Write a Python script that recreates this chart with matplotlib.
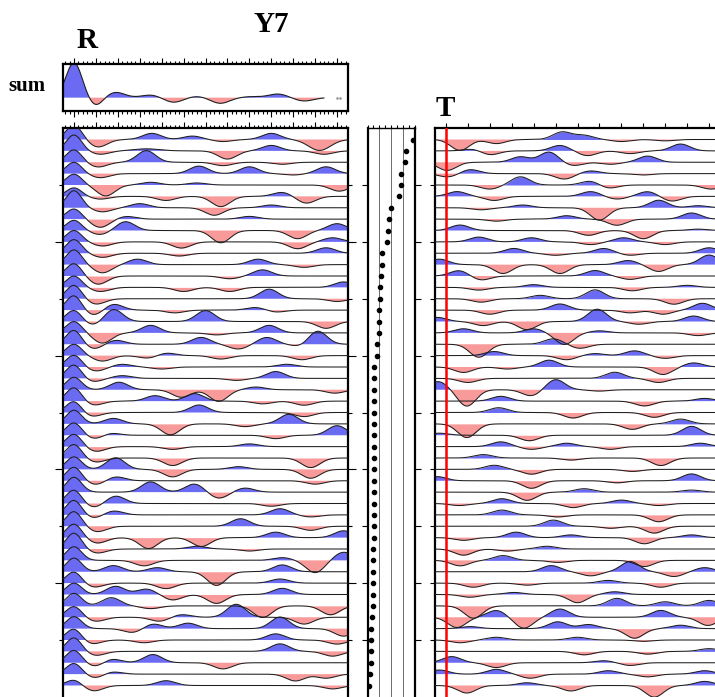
import numpy as np
import matplotlib
matplotlib.use('Agg')
import matplotlib.pyplot as plt

# ---------------- data ----------------
# time axis (s), t=0 = direct P
TIME_RANGE = (-0.5, 12.5)

# stacked radial trace: (time, amplitude[, width])
SUM_PEAKS = [(0.0, 1.05, 0.36), (1.0, -0.24, 0.32), (1.9, 0.16), (3.5, 0.08), (4.55, -0.14),
             (5.6, 0.04), (6.67, -0.17), (8.1, 0.03), (9.3, 0.11), (10.5, -0.1)]
SUM_END = 11.4

# direct-P amplitude of every radial trace (in trace spacings)
R_P_AMP = [1.3, 1.4, 1.1, 1.0, 0.95, 0.75, 1.5, 0.9, 0.9, 1.0,
           1.2, 1.3, 1.1, 1.0, 1.2, 1.3, 1.0, 1.0, 1.25, 1.0,
           1.05, 1.2, 1.1, 1.2, 1.0, 1.2, 1.1, 1.1, 1.2, 1.1,
           1.2, 1.3, 1.2, 1.3, 1.3, 1.2, 1.4, 1.2, 1.2, 1.0,
           1.0, 1.1, 0.95, 1.05, 1.0, 1.2, 1.1, 0.95, 0.5]

# later arrivals on radial traces: (time, amplitude[, width])
R_PEAKS = [
    [(1.1, -0.55), (3.55, 0.45), (5.4, 0.25), (6.8, -0.15), (9.0, 0.45), (11.2, -0.8, 0.5)],
    [(1.2, -0.25), (3.3, 0.15, 0.6), (7.0, -0.6), (9.0, 0.4), (11.4, -0.25)],
    [(1.1, -0.35), (3.3, 0.85), (6.8, -0.25), (9.5, -0.15)],
    [(1.2, -0.3), (5.7, 0.55), (8.0, 0.5), (10.0, -0.1), (11.5, 0.5)],
    [(1.45, -0.8), (3.5, 0.2), (5.6, 0.15), (12.1, -0.45)],
    [(1.2, -0.2), (4.2, -0.3), (6.7, -0.75), (9.5, 0.3), (10.6, -0.5)],
    [(1.3, -0.3), (3.0, 0.3), (6.4, -0.55), (9.0, 0.2)],
    [(1.2, -0.6), (2.4, 0.2), (8.0, 0.2)],
    [(1.2, -0.3), (2.35, 0.65), (6.7, -0.9), (10.2, -0.6), (12.0, 0.5)],
    [(1.3, -0.3), (4.9, -0.45), (10.2, -0.5), (11.8, 0.3)],
    [(1.3, -0.3), (4.8, -0.2), (11.5, 0.4)],
    [(1.3, -0.6), (2.9, 0.4), (8.4, 0.4), (10.5, -0.2)],
    [(1.1, -0.6), (7.1, -0.2), (8.6, 0.45)],
    [(1.2, -0.3), (5.0, -0.3), (7.1, -0.3), (12.3, 0.4)],
    [(1.0, -0.4), (8.9, 0.7), (12.0, -0.2)],
    [(0.9, -0.4), (1.8, 0.45), (4.6, -0.2), (8.3, 0.2), (9.2, -0.15)],
    [(0.9, -0.3), (1.8, 0.9), (6.0, 0.8), (11.5, -0.5)],
    [(1.3, -0.75), (3.5, 0.55), (6.5, -0.15), (8.9, 0.55)],
    [(0.9, -0.35), (1.9, 0.3), (5.8, 0.5), (7.5, -0.35), (8.8, 0.5), (10.4, -0.2), (11.1, 1.0)],
    [(1.3, -0.4), (3.4, -0.2), (4.2, 0.2), (6.7, -0.25), (10.4, -0.3)],
    [(1.0, -0.3), (2.2, 0.2), (4.0, -0.15), (9.7, 0.2)],
    [(0.85, -0.25), (2.2, 0.2), (7.4, -0.15), (9.2, 0.5)],
    [(2.05, 0.55), (4.9, -0.55), (6.6, -0.85), (8.3, 0.2), (11.9, -0.25)],
    [(0.9, -0.3), (3.7, 0.4), (5.5, 0.55), (8.6, -0.2), (10.5, -0.3)],
    [(0.8, -0.3), (5.7, 0.55), (10.5, -0.3)],
    [(1.8, 0.4), (4.4, -0.8), (7.8, -0.2), (9.8, 0.7)],
    [(1.0, -0.3), (1.6, 0.2), (9.2, -0.25), (12.0, 0.7)],
    [(1.0, -0.35), (4.5, -0.2), (8.0, 0.2)],
    [(1.0, -0.3), (4.5, -0.55), (10.8, -0.7)],
    [(1.9, 0.85), (4.5, -0.55), (7.5, 0.2), (10.8, -0.65)],
    [(1.0, -0.3), (1.9, 0.3), (11.0, -0.25)],
    [(3.5, 0.75), (5.5, 0.6), (6.6, -0.45), (7.8, 0.3)],
    [(0.9, -0.3), (1.9, 0.55), (9.0, -0.2)],
    [(0.9, -0.25), (1.8, 0.3), (9.4, 0.45), (10.8, -0.15)],
    [(1.06, -0.4), (7.6, 0.55), (10.8, -0.3)],
    [(1.06, -0.4), (3.4, -0.8), (5.8, -0.65), (9.2, 0.4), (12.3, 0.5)],
    [(1.06, -0.3), (5.6, 0.2), (8.0, -0.15)],
    [(3.2, -0.4), (9.5, 0.2), (11.0, -0.9), (12.3, 0.6)],
    [(1.8, 0.45), (3.8, 0.3), (6.5, -1.0), (9.5, 0.5)],
    [(0.9, -0.3), (4.2, -0.4), (9.4, 0.3)],
    [(1.9, 0.6), (3.3, 0.4), (4.5, -0.4), (6.5, -0.65), (9.5, 0.45)],
    [(1.7, 0.6), (3.5, -0.2), (8.6, -0.85), (11.7, -0.65)],
    [(1.0, -0.3), (3.9, -0.3), (4.9, 0.2), (7.4, 0.95), (10.5, -0.5)],
    [(2.7, -0.3), (3.6, 0.35), (5.2, 0.4), (9.4, 0.85), (12.3, -0.55)],
    [(0.8, -0.3), (3.2, -0.2), (9.2, 0.45), (12.0, -0.3)],
    [(1.0, -0.3), (9.4, 0.55), (11.8, -0.35)],
    [(1.0, -0.3), (1.7, 0.3), (3.6, 0.6), (6.8, -0.45)],
    [(1.0, -0.3), (1.7, 0.2), (10.1, -0.5), (11.5, -0.3)],
    [(0.9, -0.4), (4.2, 0.35), (11.8, -0.25)],
]

# transverse traces: (time, amplitude[, width])
T_PEAKS = [
    [(0.64, -0.8), (2.3, -0.3), (5.3, 0.55), (6.3, 0.3), (8.0, -0.15), (10.0, -0.1)],
    [(1.25, 0.15), (2.0, -0.3), (5.2, 0.4), (6.45, -0.35), (8.4, -0.2), (10.7, 0.5)],
    [(0.05, -0.6), (3.4, 0.4), (4.7, 0.75), (5.8, -0.25), (7.5, -0.15), (9.2, 0.45)],
    [(0.1, -0.25), (1.1, 0.3), (5.4, -0.4), (6.6, 0.2), (9.0, -0.1)],
    [(2.0, -0.3), (3.4, 0.6), (6.6, 0.3), (7.4, -0.25), (12.1, -0.3)],
    [(0.5, 0.35), (2.2, -0.3), (6.6, 0.35), (7.8, -0.2), (9.2, 0.35), (10.3, -0.35)],
    [(1.6, -0.15), (3.5, 0.2), (7.0, -0.9), (9.7, 0.55), (11.5, 0.15)],
    [(2.3, -0.15), (5.5, 0.25), (7.8, -0.45), (11.2, 0.45)],
    [(0.64, 0.4), (6.5, -0.35), (9.0, -0.6), (11.5, 0.1)],
    [(1.5, 0.35), (3.9, 0.3), (6.6, -0.2), (8.1, 0.3), (10.0, -0.2)],
    [(3.1, 0.35), (5.0, -0.15), (7.2, 0.35), (8.4, -0.15), (12.0, 0.4)],
    [(-0.3, 0.4), (2.6, -0.65), (5.2, -0.65), (8.3, 0.3), (9.7, -0.5), (12.0, 0.7)],
    [(0.6, 0.4), (1.6, -0.3), (6.8, 0.4), (8.4, -0.25)],
    [(1.5, -0.2), (4.0, 0.2), (8.5, -0.25), (11.0, 0.15)],
    [(1.6, -0.25), (4.3, 0.25), (6.8, 0.65), (10.4, -0.4)],
    [(2.0, -0.3), (5.2, 0.45), (8.4, -0.2), (9.9, -0.3), (11.7, 0.5)],
    [(-0.4, 0.3), (1.7, -0.3), (3.7, -0.6), (6.9, 0.9), (8.8, -0.2), (11.3, 0.4)],
    [(0.8, 0.3), (4.0, 0.3), (5.4, -0.85), (7.0, 0.15), (11.5, -0.2)],
    [(1.5, -0.95), (4.9, 0.4), (6.1, -0.3)],
    [(2.2, 0.3), (5.5, -0.3), (6.8, 0.15), (8.6, 0.35), (10.0, -0.2)],
    [(0.8, -0.4), (2.8, -0.15), (4.7, 0.5), (9.9, -0.55), (11.3, 0.3)],
    [(1.0, -0.3), (7.7, 0.45), (9.7, -0.3)],
    [(-0.35, 0.6), (0.95, -1.2), (3.9, -0.45), (5.0, 0.75), (7.0, -0.1)],
    [(2.5, 0.35), (9.05, -0.35), (11.8, 0.2)],
    [(2.4, 0.35), (5.8, -0.4), (9.5, -0.35)],
    [(0.95, -1.0), (8.5, -0.4), (10.7, 0.35)],
    [(-0.3, 0.15), (3.8, -0.4), (11.2, 0.65)],
    [(2.5, 0.35), (3.9, -0.2), (5.5, 0.25), (7.5, -0.2), (11.6, 0.25)],
    [(1.7, 0.25), (5.7, -0.15), (9.8, -0.55)],
    [(2.2, 0.3), (3.9, -0.35), (8.5, -0.15)],
    [(-0.4, 0.3), (3.9, -0.55), (7.8, -0.15), (11.2, 0.5)],
    [(3.7, -0.6), (6.3, 0.25), (11.2, 0.15)],
    [(0.6, -0.15), (2.55, 0.35), (5.8, -0.3), (8.0, 0.25), (9.7, -0.15)],
    [(2.55, 0.35), (5.1, -0.15), (9.7, -0.5)],
    [(4.9, 0.45), (7.5, -0.15), (9.5, -0.5)],
    [(0.8, -0.2), (3.2, 0.4), (5.7, 0.2), (9.05, -0.45), (11.2, 0.2)],
    [(0.8, -0.45), (2.8, -0.15), (4.6, 0.2)],
    [(0.65, -0.4), (2.6, 0.35), (5.1, -0.15), (9.05, -0.45)],
    [(4.8, 0.45), (6.6, -0.3), (8.4, 0.75), (10.4, -0.35), (11.8, 0.3)],
    [(1.25, -0.3), (3.7, -0.15), (7.4, 0.2), (9.8, -0.3)],
    [(1.1, -0.2), (3.1, 0.15), (6.0, -0.6), (7.7, 0.2)],
    [(1.25, -0.9), (7.8, 0.55), (10.0, 0.3), (12.0, 0.4)],
    [(0.5, -0.75), (2.3, 0.5), (3.55, -0.8), (5.2, 0.6), (9.8, 0.5), (11.95, -0.6)],
    [(1.1, 0.15), (5.1, 0.5), (6.5, 0.3), (8.6, -0.7), (10.7, 0.25)],
    [(0.65, -0.2), (2.3, 0.2), (6.0, 0.2), (9.0, -0.1)],
    [(6.3, -0.25), (9.2, -0.2), (12.0, 0.2)],
    [(0.26, 0.45), (2.3, -0.35), (7.2, 0.15), (8.4, -0.2)],
    [(-0.3, 0.3), (2.3, 0.35), (3.85, -0.3), (7.4, 0.25), (9.2, -0.2), (11.8, 0.25)],
    [(0.95, -0.55), (3.7, 0.2), (5.7, -0.4), (9.5, -0.85), (11.8, 0.3)],
]

# ray parameter (s/km) of every trace
RAY_P = [0.0783, 0.0722, 0.0714, 0.0681, 0.0678, 0.0664, 0.0594, 0.0578, 0.0572, 0.0561,
         0.0525, 0.0522, 0.0514, 0.0508, 0.0506, 0.0500, 0.0497, 0.0497, 0.0483, 0.0480,
         0.0458, 0.0458, 0.0458, 0.0456, 0.0456, 0.0456, 0.0456, 0.0456, 0.0453, 0.0453,
         0.0453, 0.0453, 0.0452, 0.0452, 0.0451, 0.0451, 0.0450, 0.0450, 0.0450, 0.0450,
         0.0450, 0.0450, 0.0442, 0.0430, 0.0430, 0.0430, 0.0430, 0.0420, 0.0413]
RAY_RANGE = (0.04, 0.08)
RAY_GRID = [0.05, 0.06, 0.07]

# ---------------- style ----------------
BLUE = '#6a6af2'
RED = '#f89a9a'
LINE = '#1e1e1e'
FONT = ['Liberation Serif', 'DejaVu Serif']
PULSE_WIDTH = 0.42      # width of later arrivals (s)
P_WIDTH = 0.35          # width of direct P (s)
WIGGLE_GAIN = 1.2       # plotting scale for later arrivals

W, H = 715, 697
fig = plt.figure(figsize=(W / 100, H / 100), dpi=100)


def ax_px(x0, y0, x1, y1):
    return fig.add_axes([x0 / W, 1 - y1 / H, (x1 - x0) / W, (y1 - y0) / H])


def wave(t, peaks, sig=PULSE_WIDTH, gain=1.0):
    y = np.zeros_like(t)
    for pk in peaks:
        s = pk[2] if len(pk) > 2 else sig
        y += gain * pk[1] * np.exp(-0.5 * ((t - pk[0]) / s) ** 2)
    return y


t = np.linspace(TIME_RANGE[0], TIME_RANGE[1], 1301)
N = len(R_PEAKS)

Y_TOP, Y_BOT = 127.5, 700.0
BASE0, SPACING = 139.5, 11.375
ylim = ((Y_BOT - BASE0) / SPACING, (Y_TOP - BASE0) / SPACING)


def style_frame(ax, lw=1.6):
    for s in ax.spines.values():
        s.set_linewidth(lw)
        s.set_color('black')


def draw_traces(ax, traces, p_amps=None):
    for i, peaks in enumerate(traces):
        y = wave(t, peaks, gain=WIGGLE_GAIN)
        if p_amps is not None:
            y = y + wave(t, [(0.0, p_amps[i], P_WIDTH)])
        yy = i - y
        ax.fill_between(t, i, yy, where=y > 0, interpolate=True, color=BLUE, lw=0, zorder=1)
        ax.fill_between(t, i, yy, where=y < 0, interpolate=True, color=RED, lw=0, zorder=1)
        ax.plot(t, yy, color=LINE, lw=0.75, zorder=3)


trace_ticks_major = [i for i in range(N) if (i + 1) % 10 == 0]
trace_ticks_minor = [i for i in range(N) if (i + 1) % 5 == 0 and (i + 1) % 10 != 0]
trace_ticks_all = [i for i in range(N) if (i + 1) % 5 == 0]

# ---- sum panel ----
axs = ax_px(63, 64.3, 348, 111)
ts = t[t <= SUM_END]
ys = wave(ts, SUM_PEAKS)
axs.fill_between(ts, 0, ys, where=ys > 0, interpolate=True, color=BLUE, lw=0)
axs.fill_between(ts, 0, ys, where=ys < 0, interpolate=True, color=RED, lw=0)
axs.plot(ts, ys, color=LINE, lw=0.8)
axs.plot([12.0, 12.15], [0, 0], ls='none', marker='.', ms=1.5, color='#888888')
axs.set_xlim(*TIME_RANGE)
axs.set_ylim(-0.4, 1.0)
axs.set_xticks(np.arange(0, 13, 1))
axs.set_xticks(np.arange(-0.4, 12.5, 0.2), minor=True)
axs.tick_params(axis='x', which='both', direction='out', top=True, bottom=True,
                labelbottom=False, labeltop=False, width=0.8)
axs.tick_params(axis='x', which='major', length=4.5)
axs.tick_params(axis='x', which='minor', length=2.2)
axs.set_yticks([])
style_frame(axs)

# ---- radial panel ----
axr = ax_px(63, Y_TOP, 348, Y_BOT)
draw_traces(axr, R_PEAKS, R_P_AMP)
axr.set_xlim(*TIME_RANGE)
axr.set_ylim(*ylim)
axr.set_xticks(np.arange(0, 13, 1))
axr.set_xticks(np.arange(-0.4, 12.5, 0.2), minor=True)
axr.tick_params(axis='x', which='both', direction='out', top=True, bottom=False,
                labelbottom=False, labeltop=False, width=0.8)
axr.tick_params(axis='x', which='major', length=4.5)
axr.tick_params(axis='x', which='minor', length=2.2)
axr.set_yticks(trace_ticks_major)
axr.set_yticks(trace_ticks_minor, minor=True)
axr.tick_params(axis='y', which='both', direction='out', left=True, right=True,
                labelleft=False, width=0.8)
axr.tick_params(axis='y', which='major', length=5.5)
axr.tick_params(axis='y', which='minor', length=3.0)
style_frame(axr)

# ---- ray parameter panel ----
axm = ax_px(367.5, Y_TOP, 415, Y_BOT)
for g in RAY_GRID:
    axm.axvline(g, color='#555555', lw=0.6, zorder=1)
axm.plot(RAY_P, np.arange(N), ls='none', marker='o', ms=3.0, color='black', zorder=3)
axm.set_xlim(*RAY_RANGE)
axm.set_ylim(*ylim)
axm.set_xticks(np.arange(0.04, 0.0801, 0.005))
axm.tick_params(axis='x', direction='out', top=True, bottom=False, labelbottom=False,
                length=2.5, width=0.8)
axm.set_yticks(trace_ticks_all)
axm.tick_params(axis='y', direction='out', left=True, right=True, labelleft=False,
                length=4.0, width=0.8)
style_frame(axm)
axm.spines['top'].set_linewidth(1.0)

# ---- transverse panel ----
axt = ax_px(435, Y_TOP, 720, Y_BOT)
draw_traces(axt, T_PEAKS)
axt.axvline(0, color='#ff0000', lw=1.8, zorder=4)
axt.set_xlim(*TIME_RANGE)
axt.set_ylim(*ylim)
axt.set_xticks(np.arange(0, 13, 1))
axt.tick_params(axis='x', direction='out', top=True, bottom=False, labelbottom=False,
                length=3.5, width=0.8)
axt.set_yticks(trace_ticks_all)
axt.tick_params(axis='y', direction='out', left=True, labelleft=False, length=3.5, width=0.8)
style_frame(axt)

# ---- labels ----
fig.text(271 / W, 1 - 24 / H, 'Y7', family=FONT, weight='bold', size=21, ha='center', va='center')
fig.text(87 / W, 1 - 41 / H, 'R', family=FONT, weight='bold', size=21, ha='center', va='center')
fig.text(445 / W, 1 - 108 / H, 'T', family=FONT, weight='bold', size=21, ha='center', va='center')
fig.text(27 / W, 1 - 86 / H, 'sum', family=FONT, weight='bold', size=15, ha='center', va='center')

fig.savefig('out.png', dpi=100)
